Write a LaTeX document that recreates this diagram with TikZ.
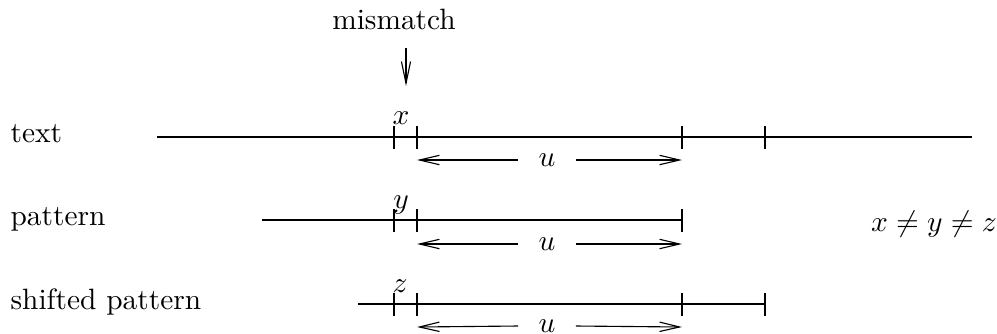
\documentclass[tikz,border=0pt]{standalone}
\usetikzlibrary{arrows.meta}
\begin{document}
\begin{tikzpicture}[x=0.34pt,y=-0.34pt,line width=0.38pt,
  lbl/.style={anchor=base west,inner sep=0pt},
  uarrow/.style={-{Straight Barb[length=6.8pt,width=3.2pt,line width=0.38pt]}},
  marrow/.style={-{Straight Barb[length=7.4pt,width=3.1pt,line width=0.38pt]}}]
\useasboundingbox (0,0) rectangle (997,333);
% labels
\node[lbl] (ltext) at (10,142) {text};
\node[lbl] (lpat) at (10,225) {pattern};
\node[lbl] (lshift) at (10,309) {shifted pattern};
\node[inner sep=0pt,anchor=base] (mis) at (394,29) {mismatch};
\coordinate (ms) at (406,48);
\coordinate (me) at (406,86);
\draw[marrow] (ms) -- (me);
% text line
\coordinate (t0) at (157,137); \coordinate (t1) at (972,137);
\draw (t0) -- (t1);
\foreach \xx in {394,417,682,765} \draw (\xx,126) -- (\xx,149);
\node[inner sep=0pt,anchor=base] (vx) at (401,124) {$x$};
% arrow 1
\coordinate (a1l) at (417,160); \coordinate (a1r) at (682,160);
\node[inner sep=0pt] (u1) at (547,160) {$u$};
\draw[uarrow] (u1.west) ++(-20,0) coordinate (u1a) -- (a1l);
\draw[uarrow] (u1.east) ++(20,0) coordinate (u1b) -- (a1r);
% pattern
\coordinate (p0) at (262,220); \coordinate (p1) at (682,220);
\draw (p0) -- (p1);
\foreach \xx in {394,417,682} \draw (\xx,209) -- (\xx,232);
\node[inner sep=0pt,anchor=base] (vy) at (401,208) {$y$};
\coordinate (a2l) at (417,244); \coordinate (a2r) at (682,244);
\node[inner sep=0pt] (u2) at (547,244) {$u$};
\draw[uarrow] (u2.west) ++(-20,0) -- (a2l);
\draw[uarrow] (u2.east) ++(20,0) -- (a2r);
% shifted pattern
\coordinate (s0) at (358,304); \coordinate (s1) at (765,304);
\draw (s0) -- (s1);
\foreach \xx in {394,417,682,765} \draw (\xx,293) -- (\xx,316);
\node[inner sep=0pt,anchor=base] (vz) at (400,292) {$z$};
\coordinate (a3l) at (417,327); \coordinate (a3r) at (682,327);
\node[inner sep=0pt] (u3) at (547,326) {$u$};
\draw[uarrow] (u3.west) ++(-20,0) -- (a3l);
\draw[uarrow] (u3.east) ++(20,0) -- (a3r);
% relation
\node[inner sep=0pt] (rel) at (934,224) {$x\neq y\neq z$};
\end{tikzpicture}
\end{document}
